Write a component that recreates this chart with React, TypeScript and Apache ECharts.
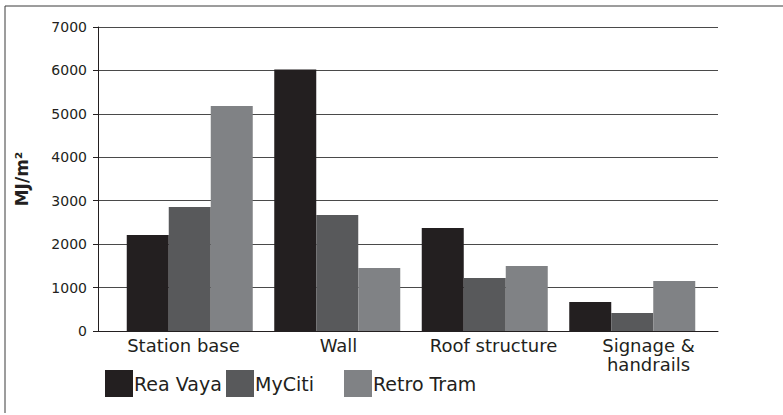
import React, { useEffect, useRef } from "react";
import * as echarts from "echarts";

const categories = ["Station base", "Wall", "Roof structure", "Signage &\nhandrails"];
const reaVaya = [2210, 6020, 2370, 670];
const myCiti = [2855, 2670, 1220, 415];
const retroTram = [5180, 1450, 1495, 1150];
const seriesNames = ["Rea Vaya", "MyCiti", "Retro Tram"];
const colors = ["#231f20", "#58595b", "#808285"];
const yTicks = { min: 0, max: 7000, interval: 1000 };

const FONT = "DejaVu Sans";

export default function App() {
  const ref = useRef<HTMLDivElement>(null);
  useEffect(() => {
    if (!ref.current) return;
    const chart = echarts.init(ref.current, null, { renderer: "svg" });
    const values = [reaVaya, myCiti, retroTram];
    const legendLefts = [105, 226, 344];
    const hiddenY = (idx: number) => ({
      type: "value",
      gridIndex: idx,
      min: yTicks.min,
      max: yTicks.max,
      interval: yTicks.interval,
      show: false,
      splitLine: { show: false },
    });
    chart.setOption({
      animation: false,
      backgroundColor: "#ffffff",
      grid: [
        { left: 98, right: 65, top: 27, bottom: 84 },
        { left: 106, right: 57, top: 27, bottom: 84 },
        { left: 116, right: 77, top: 27, bottom: 84 },
      ],
      legend: seriesNames.map((n, i) => ({
        data: [n],
        left: legendLefts[i],
        top: 370,
        padding: 0,
        icon: "rect",
        itemWidth: 28,
        itemHeight: 27,
        selectedMode: false,
        textStyle: { fontFamily: FONT, fontSize: 19, color: "#231f20", padding: [0, 0, 0, -4] },
      })),
      xAxis: [
        {
          type: "category",
          gridIndex: 0,
          data: categories,
          axisLine: { show: true, lineStyle: { color: "#231f20", width: 1 } },
          axisTick: { show: false },
          axisLabel: { show: false },
        },
        {
          type: "category",
          gridIndex: 1,
          data: categories,
          axisLine: { show: false },
          axisTick: { show: false },
          axisLabel: {
            interval: 0,
            fontFamily: FONT,
            fontSize: 18,
            lineHeight: 19,
            color: "#231f20",
            margin: 5,
          },
        },
        {
          type: "category",
          gridIndex: 2,
          data: categories,
          show: false,
        },
      ],
      yAxis: [
        {
          type: "value",
          gridIndex: 0,
          min: yTicks.min,
          max: yTicks.max,
          interval: yTicks.interval,
          name: "MJ/m²",
          nameLocation: "middle",
          nameRotate: 90,
          nameGap: 68,
          nameTextStyle: { fontFamily: FONT, fontSize: 17, fontWeight: "bold", color: "#231f20" },
          axisLine: { show: true, lineStyle: { color: "#231f20", width: 1 } },
          axisTick: { show: true, length: 5, inside: false, lineStyle: { color: "#231f20" } },
          axisLabel: {
            fontFamily: FONT,
            fontSize: 14,
            color: "#231f20",
            margin: 11,
            formatter: (v: number) => String(v),
          },
          splitLine: { show: true, lineStyle: { color: "#4a4a4a", width: 1 } },
        },
        hiddenY(1),
        hiddenY(2),
      ],
      series: seriesNames.map((n, i) => ({
        name: n,
        type: "bar",
        xAxisIndex: 2,
        yAxisIndex: 2,
        data: values[i],
        barWidth: 42,
        barGap: "0%",
        itemStyle: { color: colors[i] },
      })),
      graphic: [
        { type: "line", shape: { x1: 5, y1: 6, x2: 783, y2: 6 }, style: { stroke: "#3a3a3a", lineWidth: 1 } },
        { type: "line", shape: { x1: 5, y1: 6, x2: 5, y2: 413 }, style: { stroke: "#3a3a3a", lineWidth: 1 } },
      ],
    });
    return () => chart.dispose();
  }, []);
  return (
    <div
      ref={ref}
      style={{ position: "fixed", left: 0, top: 0, width: 783, height: 415 }}
    />
  );
}
